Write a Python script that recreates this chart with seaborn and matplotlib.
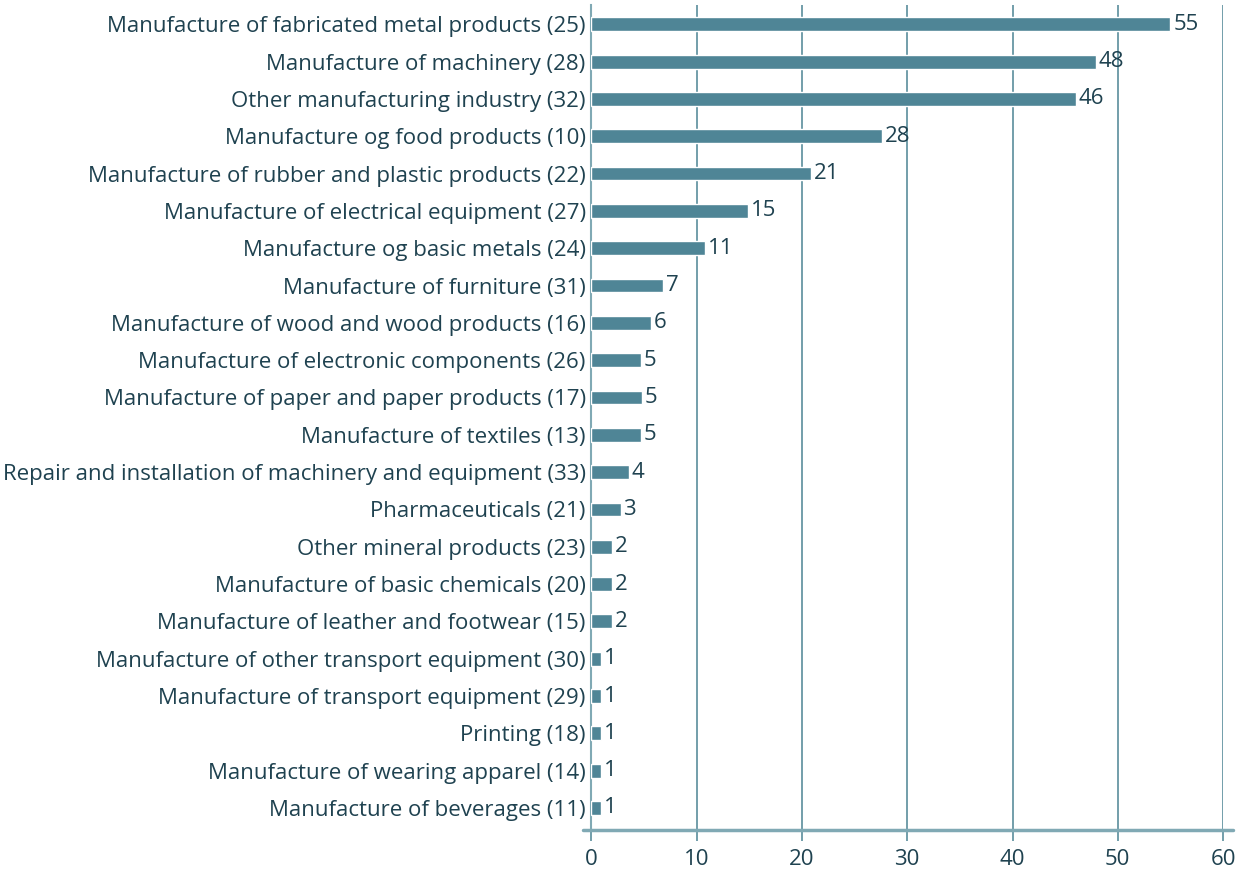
import pandas as pd
import seaborn as sns
import matplotlib.pyplot as plt

# data
industries = [
    "Manufacture of fabricated metal products (25)",
    "Manufacture of machinery (28)",
    "Other manufacturing industry (32)",
    "Manufacture og food products (10)",
    "Manufacture of rubber and plastic products (22)",
    "Manufacture of electrical equipment (27)",
    "Manufacture og basic metals (24)",
    "Manufacture of furniture (31)",
    "Manufacture of wood and wood products (16)",
    "Manufacture of electronic components (26)",
    "Manufacture of paper and paper products (17)",
    "Manufacture of textiles (13)",
    "Repair and installation of machinery and equipment (33)",
    "Pharmaceuticals (21)",
    "Other mineral products (23)",
    "Manufacture of basic chemicals (20)",
    "Manufacture of leather and footwear (15)",
    "Manufacture of other transport equipment (30)",
    "Manufacture of transport equipment (29)",
    "Printing (18)",
    "Manufacture of wearing apparel (14)",
    "Manufacture of beverages (11)",
]
values = [55.0, 47.9, 46.0, 27.6, 20.9, 14.9, 10.8, 6.8, 5.7, 4.7, 4.8, 4.7,
          3.6, 2.8, 2.0, 2.0, 2.0, 0.9, 0.9, 0.9, 0.9, 0.9]
x_ticks = [0, 10, 20, 30, 40, 50, 60]

bar_color = "#4f8596"
grid_color = "#5a8d9c"
spine_color = "#80a9b4"
text_color = "#1f4250"

df = pd.DataFrame({"industry": industries, "value": values})

sns.set_theme(style="white")
plt.rcParams["font.family"] = ["Open Sans", "DejaVu Sans"]

fig = plt.figure(figsize=(12.5, 8.76), dpi=100)
ax = fig.add_axes([0.473, 0.0525, 0.5055, 0.9415])

sns.barplot(data=df, x="value", y="industry", color=bar_color, width=0.37,
            saturation=1, ax=ax, zorder=3)

ax.set_xlim(0, 60)
ax.set_ylim(len(industries) - 0.41, -0.51)
ax.set_xticks(x_ticks)
ax.set_xlabel("")
ax.set_ylabel("")

# value labels
ax.bar_label(ax.containers[0], labels=[f"{v:.0f}" for v in values],
             padding=2, fontsize=16, color=text_color)

ax.grid(axis="x", color=grid_color, linewidth=1.2, zorder=0)
ax.grid(axis="y", visible=False)
for s in ["top", "right", "bottom"]:
    ax.spines[s].set_visible(False)
ax.spines["left"].set_color(spine_color)
ax.spines["left"].set_linewidth(1.5)

# bottom axis line sticking out a bit on both sides
ax.plot([-0.013, 1.015], [0, 0], transform=ax.transAxes, color=spine_color,
        linewidth=2.5, clip_on=False, zorder=4)

ax.tick_params(axis="x", length=8, width=1.2, color=grid_color, direction="out",
               pad=6, labelsize=16, labelcolor=text_color, bottom=True)
ax.tick_params(axis="y", length=0, pad=4, labelsize=16, labelcolor=text_color)

fig.savefig("out.png", dpi=100)
